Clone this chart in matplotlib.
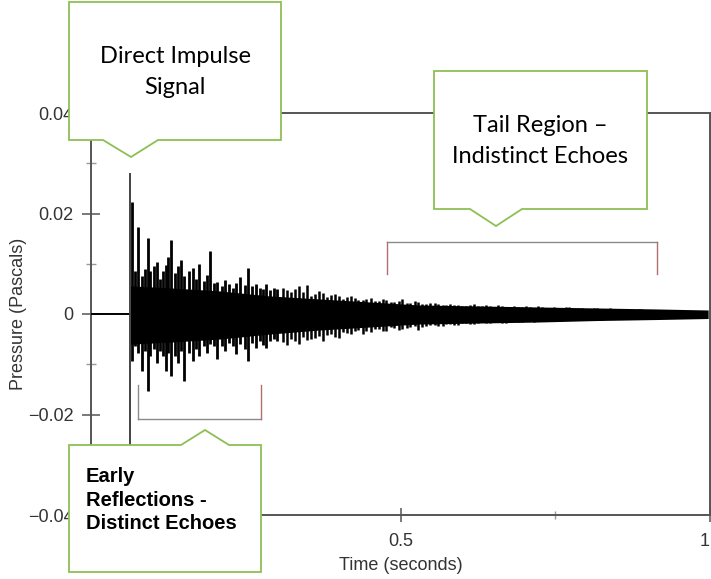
import matplotlib
import matplotlib.transforms as mtransforms
from matplotlib.patches import Polygon
from matplotlib.ticker import MultipleLocator

matplotlib.use("Agg")
import matplotlib.pyplot as plt  # noqa: E402

# ---------------------------------------------------------------------------
# Data (time in s, pressure in Pa)
# ---------------------------------------------------------------------------

# flat trace before the sound arrives
pre_t = [0.0, 0.063]
pre_p = [0.0, 0.0]

# the direct impulse
direct_t = 0.063
direct_hi = 0.0280
direct_lo = -0.0330

# early reflections: individual peaks
early_t = [0.066, 0.071, 0.076, 0.082, 0.087, 0.092, 0.096, 0.101, 0.106, 0.111,
           0.116, 0.121, 0.125, 0.130, 0.135, 0.141, 0.146, 0.151, 0.158, 0.164,
           0.169, 0.175, 0.182, 0.188, 0.193, 0.198, 0.204, 0.211, 0.217, 0.223,
           0.230, 0.235, 0.241, 0.248, 0.254, 0.260, 0.267, 0.273, 0.278, 0.283,
           0.289, 0.296, 0.301]
early_hi = [0.0222, 0.0086, 0.0174, 0.0076, 0.0090, 0.0152, 0.0086, 0.0096, 0.0104, 0.0070,
            0.0086, 0.0098, 0.0114, 0.0148, 0.0082, 0.0096, 0.0108, 0.0076, 0.0086, 0.0092,
            0.0070, 0.0100, 0.0066, 0.0078, 0.0126, 0.0062, 0.0064, 0.0056, 0.0068, 0.0060,
            0.0052, 0.0062, 0.0074, 0.0058, 0.0092, 0.0056, 0.0060, 0.0052, 0.0050, 0.0060,
            0.0048, 0.0052, 0.0050]
early_lo = [-0.0094, -0.0064, -0.0078, -0.0114, -0.0074, -0.0154, -0.0084, -0.0070, -0.0098, -0.0074,
            -0.0084, -0.0114, -0.0078, -0.0124, -0.0084, -0.0098, -0.0074, -0.0134, -0.0078, -0.0094,
            -0.0070, -0.0084, -0.0064, -0.0078, -0.0060, -0.0064, -0.0090, -0.0064, -0.0074, -0.0058,
            -0.0064, -0.0080, -0.0060, -0.0070, -0.0094, -0.0058, -0.0068, -0.0054, -0.0062, -0.0068,
            -0.0054, -0.0050, -0.0054]

# reverberant tail: peaks
tail_t = [0.310, 0.323, 0.336, 0.349, 0.362, 0.375, 0.387, 0.400, 0.413, 0.426,
          0.439, 0.452, 0.465, 0.477, 0.490, 0.503, 0.516, 0.529, 0.542, 0.555,
          0.568, 0.580, 0.593, 0.606, 0.619, 0.632, 0.645, 0.658, 0.670, 0.683,
          0.696, 0.709, 0.722, 0.735, 0.748, 0.760, 0.773, 0.786, 0.799, 0.812,
          0.825, 0.838, 0.850, 0.863, 0.876, 0.889, 0.902, 0.915, 0.928, 0.941,
          0.953, 0.966, 0.979, 0.992]
tail_hi = [0.0052, 0.0044, 0.0056, 0.0058, 0.0040, 0.0042, 0.0038, 0.0036, 0.0034, 0.0032,
           0.0028, 0.0032, 0.0026, 0.0028, 0.0024, 0.0030, 0.0022, 0.0024, 0.0020, 0.0022,
           0.0018, 0.0020, 0.0018, 0.0016, 0.0020, 0.0016, 0.0016, 0.0018, 0.0014, 0.0016,
           0.0014, 0.0014, 0.0016, 0.0012, 0.0014, 0.0012, 0.0014, 0.0012, 0.0010, 0.0012,
           0.0010, 0.0012, 0.0010, 0.0010, 0.0008, 0.0010, 0.0008, 0.0008, 0.0008, 0.0006,
           0.0008, 0.0006, 0.0006, 0.0006]
tail_lo = [-0.0056, -0.0050, -0.0060, -0.0052, -0.0048, -0.0054, -0.0040, -0.0048, -0.0038, -0.0034,
           -0.0040, -0.0036, -0.0030, -0.0034, -0.0028, -0.0030, -0.0026, -0.0032, -0.0024, -0.0022,
           -0.0024, -0.0020, -0.0022, -0.0018, -0.0020, -0.0016, -0.0018, -0.0016, -0.0018, -0.0014,
           -0.0016, -0.0014, -0.0012, -0.0014, -0.0012, -0.0014, -0.0010, -0.0012, -0.0010, -0.0010,
           -0.0012, -0.0008, -0.0010, -0.0008, -0.0010, -0.0008, -0.0008, -0.0006, -0.0008, -0.0006,
           -0.0006, -0.0006, -0.0006, -0.0004]

# reverberant tail: peaks lying between the ones above
tail2_t = [0.317, 0.330, 0.342, 0.355, 0.368, 0.381, 0.394, 0.407, 0.420, 0.432,
           0.445, 0.458, 0.471, 0.484, 0.497, 0.510, 0.523, 0.535, 0.548, 0.561,
           0.574, 0.587, 0.600, 0.613, 0.625, 0.638, 0.651, 0.664, 0.677, 0.690,
           0.703, 0.715, 0.728, 0.741, 0.754, 0.767, 0.780, 0.793, 0.805, 0.818,
           0.831, 0.844, 0.857, 0.870, 0.883, 0.895, 0.908, 0.921, 0.934, 0.947,
           0.960, 0.973, 0.986]
tail2_hi = [0.0048, 0.0050, 0.0044, 0.0036, 0.0046, 0.0034, 0.0040, 0.0030, 0.0036, 0.0028,
            0.0030, 0.0026, 0.0030, 0.0024, 0.0026, 0.0022, 0.0026, 0.0020, 0.0022, 0.0020,
            0.0018, 0.0018, 0.0016, 0.0018, 0.0016, 0.0018, 0.0014, 0.0016, 0.0014, 0.0014,
            0.0016, 0.0012, 0.0014, 0.0012, 0.0012, 0.0014, 0.0010, 0.0012, 0.0010, 0.0012,
            0.0010, 0.0008, 0.0010, 0.0008, 0.0010, 0.0008, 0.0008, 0.0006, 0.0008, 0.0006,
            0.0006, 0.0006, 0.0005]
tail2_lo = [-0.0062, -0.0054, -0.0046, -0.0050, -0.0044, -0.0042, -0.0046, -0.0036, -0.0040, -0.0032,
            -0.0034, -0.0030, -0.0034, -0.0026, -0.0032, -0.0028, -0.0024, -0.0026, -0.0022, -0.0024,
            -0.0020, -0.0022, -0.0018, -0.0020, -0.0018, -0.0018, -0.0016, -0.0018, -0.0014, -0.0016,
            -0.0014, -0.0016, -0.0012, -0.0014, -0.0012, -0.0012, -0.0012, -0.0010, -0.0012, -0.0010,
            -0.0010, -0.0010, -0.0008, -0.0010, -0.0008, -0.0008, -0.0008, -0.0006, -0.0006, -0.0006,
            -0.0006, -0.0005, -0.0005]

# dense body of the waveform (solid black band)
core_t = [0.064, 0.127, 0.207, 0.288, 0.368, 0.449, 0.529, 0.625, 0.722, 0.818, 0.915, 0.997]
core_hi = [0.0056, 0.0052, 0.0046, 0.0036, 0.0030, 0.0024, 0.0018, 0.0016, 0.0014, 0.0012, 0.0010, 0.0008]
core_lo = [-0.0060, -0.0056, -0.0050, -0.0040, -0.0032, -0.0026, -0.0020, -0.0018, -0.0016, -0.0013,
           -0.0011, -0.0009]

# bracketed regions
early_span = (0.076, 0.275)
tail_span = (0.478, 0.914)

# ---------------------------------------------------------------------------
# Style
# ---------------------------------------------------------------------------

W, H = 711, 579
AXIS_GREY = "#555555"
LABEL_GREY = "#333333"
CALLOUT_GREEN = "#8dbf55"
BRACKET_GREY = "#8a8a8a"
BRACKET_RED = "#b07070"

plt.rcParams["font.family"] = ["Liberation Sans", "DejaVu Sans"]

fig = plt.figure(figsize=(W / 100, H / 100), dpi=100)
ax = fig.add_axes([91 / W, 64 / H, 619 / W, 402 / H])

# waveform
ax.plot(pre_t, pre_p, color="black", linewidth=1.4, zorder=3)
ax.fill_between(core_t, core_lo, core_hi, color="black", linewidth=0, zorder=3)
ax.vlines(early_t, early_lo, early_hi, color="black", linewidth=2.0, zorder=3)
ax.vlines(tail_t, tail_lo, tail_hi, color="black", linewidth=1.8, zorder=3)
ax.vlines(tail2_t, tail2_lo, tail2_hi, color="black", linewidth=1.8, zorder=3)
ax.vlines([direct_t], [direct_lo], [direct_hi], color="#444444", linewidth=1.4, zorder=3)

# brackets
e0, e1 = early_span
ax.plot([e0, e1], [-0.0208, -0.0208], color=BRACKET_GREY, linewidth=1.0)
ax.plot([e0, e0], [-0.0208, -0.0142], color=BRACKET_GREY, linewidth=1.0)
ax.plot([e1, e1], [-0.0208, -0.0142], color=BRACKET_RED, linewidth=1.0)
t0, t1 = tail_span
ax.plot([t0, t1], [0.0144, 0.0144], color=BRACKET_GREY, linewidth=1.0)
ax.plot([t0, t0], [0.0144, 0.0080], color=BRACKET_RED, linewidth=1.0)
ax.plot([t1, t1], [0.0144, 0.0080], color=BRACKET_RED, linewidth=1.0)

# axes
ax.set_xlim(0, 1)
ax.set_ylim(-0.04, 0.04)
ax.xaxis.set_minor_locator(MultipleLocator(0.25))
ax.yaxis.set_minor_locator(MultipleLocator(0.01))
ax.set_xticks([0, 0.5, 1])
ax.set_xticklabels(["0", "0.5", "1"])
ax.get_xticklabels()[-1].set_horizontalalignment("right")
ax.set_yticks([-0.04, -0.02, 0, 0.02, 0.04])
ax.set_yticklabels(["\u22120.04", "\u22120.02", "0", "0.02", "0.04"])
for s in ax.spines.values():
    s.set_color(AXIS_GREY)
    s.set_linewidth(1.4)
ax.tick_params(axis="y", which="major", direction="inout", length=13, width=1.1,
               color=AXIS_GREY, labelsize=13, labelcolor=LABEL_GREY, pad=6)
ax.tick_params(axis="y", which="minor", direction="inout", length=7, width=1.0, color="#999999")
ax.tick_params(axis="x", which="major", direction="inout", length=10, width=1.1,
               color=AXIS_GREY, labelsize=13, labelcolor=LABEL_GREY, pad=8)
ax.tick_params(axis="x", which="minor", direction="inout", length=6, width=1.0, color="#999999")
ax.set_xlabel("Time (seconds)", fontsize=13, color=LABEL_GREY, labelpad=5)
ax.set_ylabel("Pressure (Pascals)", fontsize=13, color=LABEL_GREY, labelpad=1)

# ---------------------------------------------------------------------------
# Callouts (pixel layout, origin top-left)
# ---------------------------------------------------------------------------

px = mtransforms.Affine2D().scale(1 / W, -1 / H).translate(0, 1) + fig.transFigure


def callout(verts):
    fig.add_artist(Polygon(verts, closed=True, facecolor="white", edgecolor=CALLOUT_GREEN,
                           linewidth=1.3, transform=px, zorder=5))


callout([(69, 2), (281, 2), (281, 140), (158, 140), (131, 157), (103, 140), (69, 140)])
fig.text(175, 72, "Direct Impulse\nSignal", transform=px, ha="center", va="center",
         fontsize=17, family=["Lato", "DejaVu Sans"], color="black", linespacing=1.55, zorder=6)

callout([(434, 71), (647, 71), (647, 209), (522, 209), (496, 226), (470, 209), (434, 209)])
fig.text(540, 141, "Tail Region \u2013\nIndistinct Echoes", transform=px, ha="center", va="center",
         fontsize=17, family=["Lato", "DejaVu Sans"], color="black", linespacing=1.6, zorder=6)

callout([(69, 445), (181, 445), (205, 430), (229, 445), (261, 445), (261, 572), (69, 572)])
fig.text(86, 500, "Early\nReflections -\nDistinct Echoes", transform=px, ha="left", va="center",
         fontsize=14.5, fontweight="bold", color="black", linespacing=1.3, zorder=6)

fig.savefig("out.png", dpi=100, facecolor="white")
